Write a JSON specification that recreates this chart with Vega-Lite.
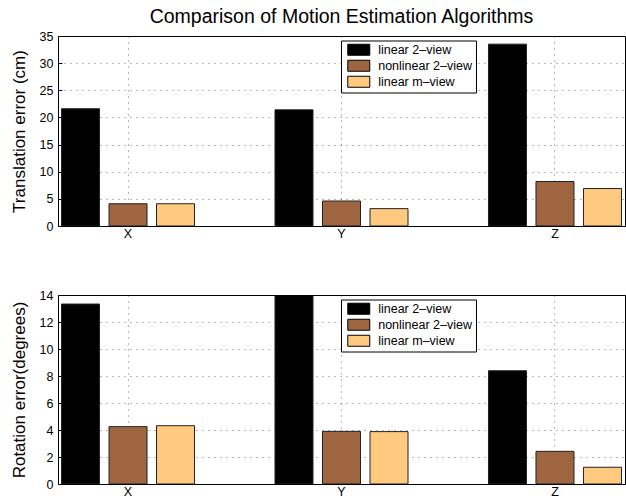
{
  "$schema": "https://vega.github.io/schema/vega-lite/v6.json",
  "padding": {"left": 9, "top": 6, "right": 0, "bottom": 0},
  "spacing": 47,
  "config": {
    "font": "Liberation Sans",
    "view": {"stroke": "#000", "strokeWidth": 1},
    "axis": {
      "labelFont": "Liberation Sans",
      "labelFontSize": 12.5,
      "labelColor": "#000",
      "titleFont": "Liberation Sans",
      "titleFontSize": 17,
      "titleFontWeight": "normal",
      "titleColor": "#000",
      "domain": false,
      "tickColor": "#000",
      "tickSize": -4,
      "labelPadding": 9,
      "gridColor": "#000",
      "gridOpacity": 0.55,
      "gridDash": [1, 5],
      "gridWidth": 1
    },
    "axisX": {"labelPadding": 5.5},
    "legend": {
      "orient": "none",
      "legendX": 283,
      "legendY": 4.5,
      "direction": "vertical",
      "title": null,
      "fillColor": "#fff",
      "strokeColor": "#000",
      "padding": 3,
      "labelFont": "Liberation Sans",
      "labelFontSize": 12.5,
      "labelColor": "#000",
      "symbolType": "M-0.45,-1H3.55V1H-0.45Z",
      "symbolSize": 121,
      "symbolStrokeColor": "#000",
      "symbolStrokeWidth": 1,
      "rowPadding": 0,
      "labelOffset": 21.7
    }
  },
  "data": {
    "values": [
      {"comp": "X", "method": "linear 2–view", "translation": 21.6, "rotation": 13.33},
      {"comp": "X", "method": "nonlinear 2–view", "translation": 4.1, "rotation": 4.25},
      {"comp": "X", "method": "linear m–view", "translation": 4.1, "rotation": 4.32},
      {"comp": "Y", "method": "linear 2–view", "translation": 21.4, "rotation": 14.3},
      {"comp": "Y", "method": "nonlinear 2–view", "translation": 4.6, "rotation": 3.9},
      {"comp": "Y", "method": "linear m–view", "translation": 3.2, "rotation": 3.88},
      {"comp": "Z", "method": "linear 2–view", "translation": 33.5, "rotation": 8.39},
      {"comp": "Z", "method": "nonlinear 2–view", "translation": 8.2, "rotation": 2.42},
      {"comp": "Z", "method": "linear m–view", "translation": 6.9, "rotation": 1.24}
    ]
  },
  "vconcat": [
    {
      "width": 567,
      "height": 190,
      "title": {"text": "Comparison of Motion Estimation Algorithms", "fontSize": 19.5, "fontWeight": "normal", "font": "Liberation Sans", "color": "#000", "anchor": "middle", "frame": "group", "offset": 3},
      "mark": {"type": "bar", "stroke": "#222", "strokeWidth": 1, "clip": true},
      "encoding": {
        "x": {"field": "comp", "type": "nominal", "scale": {"paddingInner": 0.344, "paddingOuter": 0}, "axis": {"title": null, "labelAngle": 0, "grid": true, "bandPosition": 0.5}},
        "xOffset": {"field": "method", "type": "nominal", "sort": ["linear 2–view", "nonlinear 2–view", "linear m–view"], "scale": {"paddingInner": 0.2, "paddingOuter": 0.074}},
        "y": {"field": "translation", "type": "quantitative", "scale": {"domain": [0, 35], "nice": false}, "axis": {"title": "Translation error (cm)", "values": [0, 5, 10, 15, 20, 25, 30, 35], "grid": true, "titlePadding": 11}},
        "color": {"field": "method", "type": "nominal", "sort": ["linear 2–view", "nonlinear 2–view", "linear m–view"], "scale": {"domain": ["linear 2–view", "nonlinear 2–view", "linear m–view"], "range": ["#000000", "#9F6540", "#FFC980"]}}
      }
    },
    {
      "width": 567,
      "height": 189,
      "mark": {"type": "bar", "stroke": "#222", "strokeWidth": 1, "clip": true},
      "encoding": {
        "x": {"field": "comp", "type": "nominal", "scale": {"paddingInner": 0.344, "paddingOuter": 0}, "axis": {"title": null, "labelAngle": 0, "grid": true, "bandPosition": 0.5}},
        "xOffset": {"field": "method", "type": "nominal", "sort": ["linear 2–view", "nonlinear 2–view", "linear m–view"], "scale": {"paddingInner": 0.2, "paddingOuter": 0.074}},
        "y": {"field": "rotation", "type": "quantitative", "scale": {"domain": [0, 14], "nice": false}, "axis": {"title": "Rotation error(degrees)", "values": [0, 2, 4, 6, 8, 10, 12, 14], "grid": true, "titlePadding": 11}},
        "color": {"field": "method", "type": "nominal", "sort": ["linear 2–view", "nonlinear 2–view", "linear m–view"], "scale": {"domain": ["linear 2–view", "nonlinear 2–view", "linear m–view"], "range": ["#000000", "#9F6540", "#FFC980"]}}
      }
    }
  ],
  "resolve": {"legend": {"color": "independent"}}
}
